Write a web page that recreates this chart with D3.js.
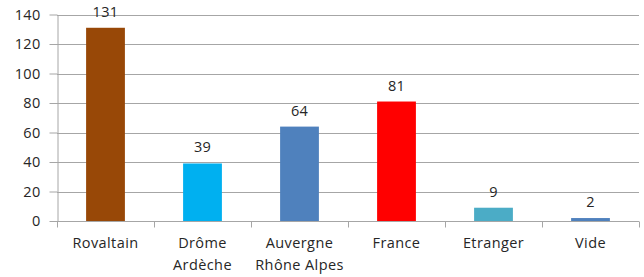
<!DOCTYPE html>
<html><head><meta charset="utf-8">
<script src="https://cdn.jsdelivr.net/npm/d3@7"></script>
<style>
html,body{margin:0;padding:0;background:#fff;}
svg{display:block;}
text{font-family:"Open Sans",sans-serif;fill:#262626;}
</style></head>
<body><svg id="c" width="644" height="277"></svg>
<script>
const categories = [["Rovaltain"],["Drôme","Ardèche"],["Auvergne","Rhône Alpes"],["France"],["Etranger"],["Vide"]];
const values = [131, 39, 64, 81, 9, 2];
const colors = ["#984807", "#00B0F0", "#4F81BD", "#FF0000", "#4BACC6", "#4F81BD"];
const yTicks = [0, 20, 40, 60, 80, 100, 120, 140];

const svg = d3.select("#c");
const mLeft = 57, mRight = 639, mTop = 14.5, mBottom = 221;
const keys = categories.map((c,i)=>i);
const x = d3.scaleBand().domain(keys).range([mLeft, mRight]).paddingInner(0.6).paddingOuter(0.3);
const xb = d3.scaleBand().domain(keys).range([mLeft, mRight]);
const y = d3.scaleLinear().domain([0, 140]).range([mBottom, mTop]);
const gridColor = "#a6a6a6";

// gridlines
svg.append("g").selectAll("line").data(yTicks.filter(t=>t>0)).join("line")
  .attr("x1", mLeft).attr("x2", mRight)
  .attr("y1", d=>Math.round(y(d))+0.5).attr("y2", d=>Math.round(y(d))+0.5)
  .attr("stroke", gridColor).attr("stroke-width", 1);

// y axis
const ya = svg.append("g").attr("transform", `translate(${mLeft+0.5},0)`)
  .call(d3.axisLeft(y).tickValues(yTicks).tickSize(8).tickPadding(9).tickSizeOuter(0));
ya.select(".domain").attr("stroke", gridColor);
ya.selectAll(".tick line").attr("stroke", gridColor);
ya.selectAll(".tick text").attr("font-size", "14.5px").attr("font-family", "Open Sans").attr("fill", "#262626").attr("letter-spacing", "0.3px");

// bars
svg.append("g").selectAll("rect").data(values).join("rect")
  .attr("x", (d,i)=>x(i)).attr("width", x.bandwidth())
  .attr("y", d=>y(d)).attr("height", d=>y(0)-y(d))
  .attr("fill", (d,i)=>colors[i]);

// x axis
const xa = svg.append("g").attr("transform", `translate(0,${Math.round(mBottom)+0.5})`);
xa.append("line").attr("x1", mLeft).attr("x2", mRight).attr("stroke", gridColor);
const bounds = keys.map(k=>xb(k)).concat([mRight]);
xa.selectAll("line.t").data(bounds).join("line").attr("class","t")
  .attr("x1", d=>Math.round(d)+0.5).attr("x2", d=>Math.round(d)+0.5)
  .attr("y1", 0).attr("y2", 6).attr("stroke", gridColor);

// x labels
const lab = svg.append("g").selectAll("text").data(categories).join("text")
  .attr("x", (d,i)=>xb(i)+xb.bandwidth()/2).attr("y", 248)
  .attr("text-anchor", "middle").attr("font-size", "14.5px").attr("letter-spacing", "0.4px");
lab.selectAll("tspan").data(d=>d).join("tspan")
  .attr("x", function(){return this.parentNode.getAttribute("x");})
  .attr("dy", (d,i)=>i===0?0:21.5).text(d=>d);

// value labels
svg.append("g").selectAll("text").data(values).join("text")
  .attr("x", (d,i)=>x(i)+x.bandwidth()/2).attr("y", d=>y(d)-11)
  .attr("text-anchor", "middle").attr("font-size", "14.5px").attr("letter-spacing", "0.3px")
  .text(d=>d);
</script></body></html>
